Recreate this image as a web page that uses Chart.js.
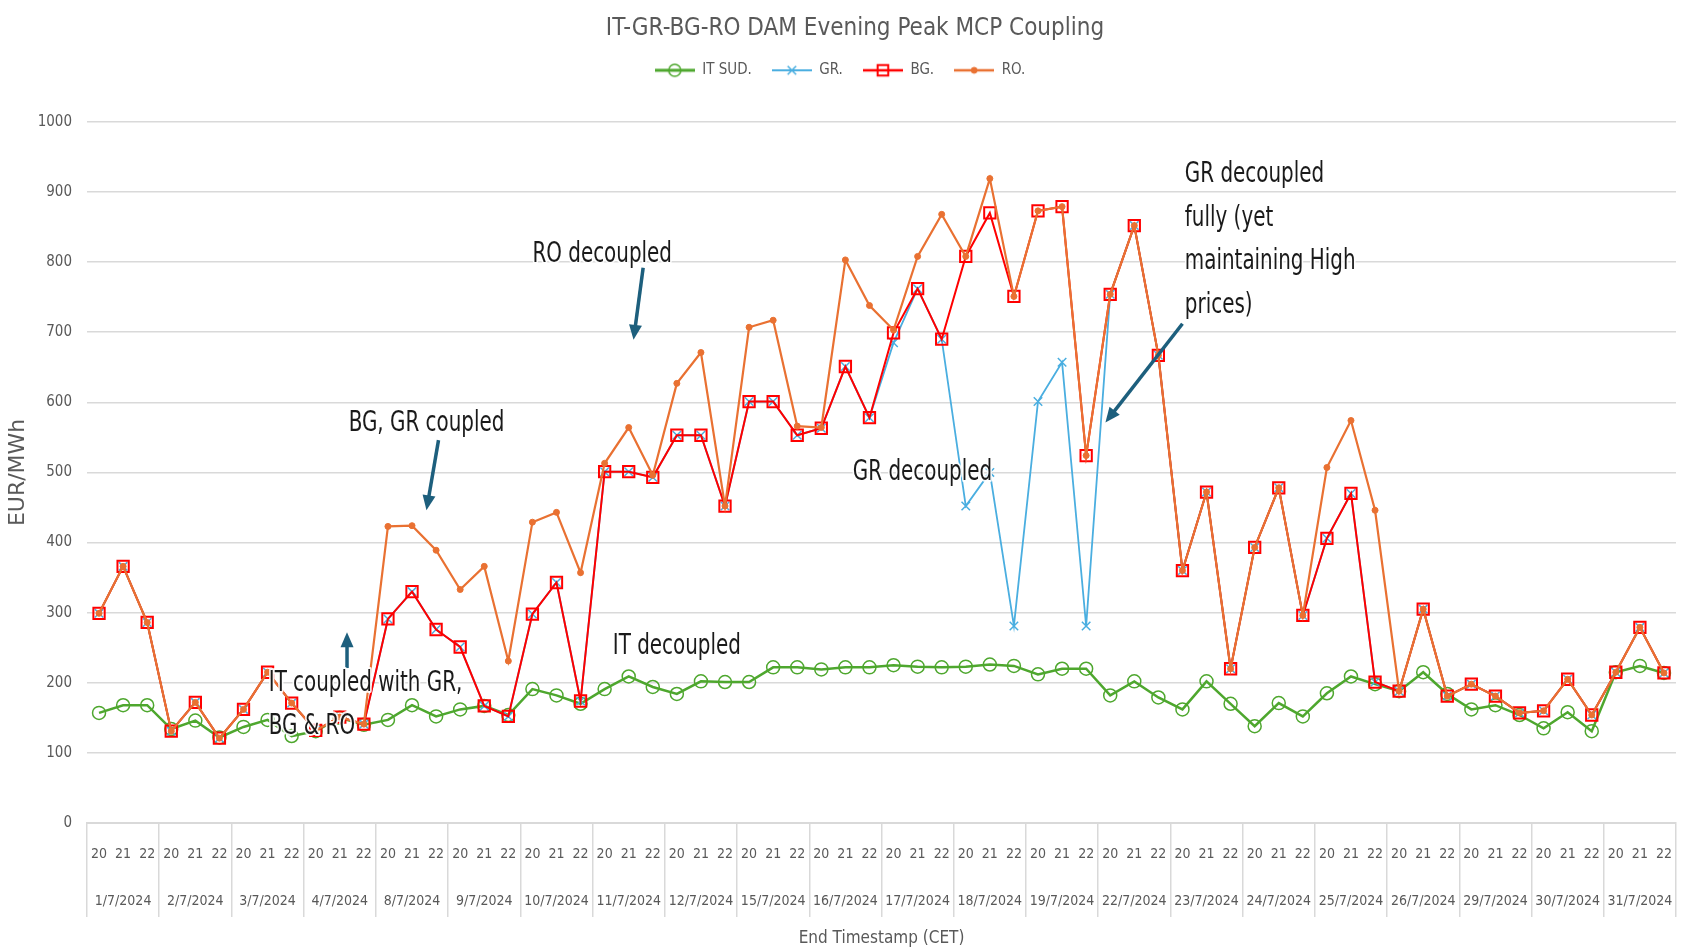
<!DOCTYPE html>
<html>
<head>
<meta charset="utf-8">
<script src="https://cdn.jsdelivr.net/npm/chart.js@4.4.1/dist/chart.umd.min.js"></script>
<style>
    html, body { margin: 0; padding: 0; background: #ffffff; }
    canvas { display: block; }
</style>
</head>
<body>
<canvas id="mcpChart" width="1686" height="952"></canvas>
<script>
// ===== DATA =====
const days = ["1/7/2024", "2/7/2024", "3/7/2024", "4/7/2024", "8/7/2024", "9/7/2024", "10/7/2024",
    "11/7/2024", "12/7/2024", "15/7/2024", "16/7/2024", "17/7/2024", "18/7/2024", "19/7/2024",
    "22/7/2024", "23/7/2024", "24/7/2024", "25/7/2024", "26/7/2024", "29/7/2024", "30/7/2024", "31/7/2024"];
const hours = ["20", "21", "22"];

// three evening hours per day, day by day
const itSud = [157, 168, 168, 134, 146, 122, 137, 147, 124, 131, 150, 140, 147, 168, 152, 162, 167, 154,
    191, 182, 170, 191, 209, 194, 184, 202, 201, 201, 222, 222, 219, 222, 222, 225, 223, 222,
    223, 226, 224, 212, 220, 220, 182, 202, 179, 162, 202, 170, 138, 171, 152, 185, 209, 198,
    188, 215, 184, 162, 168, 154, 135, 158, 131, 215, 224, 214];
const gr = [299, 366, 286, 131, 172, 121, 162, 215, 171, 132, 151, 141, 291, 330, 276, 251, 167, 152,
    298, 343, 174, 501, 501, 493, 553, 553, 452, 601, 601, 553, 563, 651, 578, 685, 762, 690,
    452, 500, 281, 601, 657, 281, 754, 852, 667, 360, 472, 220, 393, 478, 296, 406, 470, 201,
    188, 305, 181, 198, 181, 157, 160, 205, 154, 215, 279, 214];
const bg = [299, 366, 286, 131, 172, 121, 162, 215, 171, 132, 151, 141, 291, 330, 276, 251, 167, 152,
    298, 343, 174, 501, 501, 493, 553, 553, 452, 601, 601, 553, 563, 651, 578, 699, 762, 690,
    808, 870, 751, 873, 879, 524, 754, 852, 667, 360, 472, 220, 393, 478, 296, 406, 470, 201,
    188, 305, 181, 198, 181, 157, 160, 205, 154, 215, 279, 214];
const ro = [299, 366, 286, 131, 172, 121, 162, 215, 171, 132, 151, 141, 423, 424, 389, 333, 366, 231,
    429, 443, 357, 513, 564, 496, 627, 671, 452, 707, 717, 566, 564, 803, 738, 703, 808, 868,
    808, 919, 751, 873, 879, 524, 754, 852, 667, 360, 472, 220, 393, 478, 296, 507, 574, 446,
    188, 305, 181, 198, 181, 157, 160, 205, 154, 215, 279, 214];

const yTicks = [0, 1000, 100]; // min, max, step

// callouts: x = category index, y = EUR/MWh (first line)
const notes = [
    { lines: ["RO decoupled"], x: 20.9, y: 810, align: "center" },
    { lines: ["BG, GR coupled"], x: 13.6, y: 570, align: "center" },
    { lines: ["IT coupled with GR,", "BG & RO"], x: 7.05, y: 199, align: "left" },
    { lines: ["IT decoupled"], x: 24.0, y: 251, align: "center" },
    { lines: ["GR decoupled"], x: 34.2, y: 499, align: "center" },
    { lines: ["GR decoupled", "fully (yet", "maintaining High", "prices)"], x: 45.1, y: 924, align: "left" }
];
const arrows = [
    { from: [22.6, 792], to: [22.2, 689] },
    { from: [14.1, 546], to: [13.6, 446] },
    { from: [10.3, 221], to: [10.3, 272] },
    { from: [45.0, 712], to: [41.8, 571] }
];

// ===== STYLE =====
const NARROW = '"DejaVu Sans Condensed", "Liberation Sans", sans-serif';
const GREY_TEXT = "#595959";
const GRID = "#d9d9d9";
const C_IT = "#4ea72e";
const C_GR = "#4aaee0";
const C_BG = "#ff0000";
const C_RO = "#e97132";
const ARROW = "#1d5f7d";

// x labels: hour on first line, date under the middle hour
const xLabels = [];
days.forEach(d => {
    hours.forEach((h, k) => {
        xLabels.push(k === 1 ? [h, d] : h);
    });
});

// legend icons: line with the marker in the middle
function makeLegendIcon(color, style, radius, lineWidth, markerWidth, fill) {
    const c = document.createElement("canvas");
    c.width = 40;
    c.height = 20;
    const g = c.getContext("2d");
    g.strokeStyle = color;
    g.lineWidth = lineWidth;
    g.beginPath();
    g.moveTo(0, 10);
    g.lineTo(40, 10);
    g.stroke();
    g.fillStyle = fill;
    g.lineWidth = markerWidth;
    Chart.helpers.drawPoint(g, { pointStyle: style, radius: radius, rotation: 0, borderWidth: markerWidth }, 20, 10);
    return c;
}

const legendIcons = [
    makeLegendIcon(C_IT, "circle", 6, 3, 1.5, "rgba(0,0,0,0)"),
    makeLegendIcon(C_GR, "crossRot", 6, 2, 1.5, "rgba(0,0,0,0)"),
    makeLegendIcon(C_BG, "rect", 7.5, 2.5, 2, "rgba(0,0,0,0)"),
    makeLegendIcon(C_RO, "circle", 3, 2.5, 1, C_RO)
];

// ===== CALLOUT PLUGIN =====
const notesPlugin = {
    id: "notes",
    afterLayout(chart) {
        // the chart title sits a little right of the page centre
        if (chart.titleBlock) chart.titleBlock.left += 30;
    },
    afterDatasetsDraw(chart) {
        const { ctx, scales } = chart;
        const sx = scales.x, sy = scales.y;
        ctx.save();

        // arrows
        ctx.strokeStyle = ARROW;
        ctx.fillStyle = ARROW;
        ctx.lineWidth = 3.5;
        arrows.forEach(a => {
            const x1 = sx.getPixelForValue(a.from[0]), y1 = sy.getPixelForValue(a.from[1]);
            const x2 = sx.getPixelForValue(a.to[0]), y2 = sy.getPixelForValue(a.to[1]);
            const ang = Math.atan2(y2 - y1, x2 - x1);
            const head = 15, half = 6.5;
            const cos = Math.cos(ang), sin = Math.sin(ang);
            ctx.beginPath();
            ctx.moveTo(x1, y1);
            ctx.lineTo(x2 - cos * head * 0.8, y2 - sin * head * 0.8);
            ctx.stroke();
            ctx.beginPath();
            ctx.moveTo(x2, y2);
            ctx.lineTo(x2 - head * cos + half * sin, y2 - head * sin - half * cos);
            ctx.lineTo(x2 - head * cos - half * sin, y2 - head * sin + half * cos);
            ctx.closePath();
            ctx.fill();
        });

        // texts (white halo like the pasted text boxes)
        ctx.font = "28px " + NARROW;
        ctx.textBaseline = "middle";
        ctx.lineJoin = "round";
        notes.forEach(n => {
            const px = sx.getPixelForValue(n.x);
            const py = sy.getPixelForValue(n.y);
            n.lines.forEach((line, i) => {
                ctx.save();
                ctx.translate(px, py + i * 43.5);
                ctx.scale(0.79, 1);
                ctx.textAlign = n.align;
                ctx.strokeStyle = "rgba(255,255,255,0.9)";
                ctx.lineWidth = 4;
                ctx.strokeText(line, 0, 0);
                ctx.fillStyle = "#1a1a1a";
                ctx.fillText(line, 0, 0);
                ctx.restore();
            });
        });
        ctx.restore();
    }
};

// ===== CHART =====
const ctx = document.getElementById("mcpChart").getContext("2d");
const chart = new Chart(ctx, {
    type: "line",
    data: {
        labels: xLabels,
        datasets: [
            { label: "IT SUD.", data: itSud, borderColor: C_IT, borderWidth: 2.5, pointStyle: "circle",
              pointRadius: 6.5, pointBorderWidth: 1.5, pointBorderColor: C_IT, pointBackgroundColor: "rgba(0,0,0,0)", order: 3 },
            { label: "GR.", data: gr, borderColor: C_GR, borderWidth: 1.8, pointStyle: "crossRot",
              pointRadius: 6, pointBorderWidth: 1.5, pointBorderColor: C_GR, pointBackgroundColor: C_GR, order: 2 },
            { label: "BG.", data: bg, borderColor: C_BG, borderWidth: 2, pointStyle: "rect",
              pointRadius: 8, pointBorderWidth: 2, pointBorderColor: C_BG, pointBackgroundColor: "rgba(0,0,0,0)", order: 1 },
            { label: "RO.", data: ro, borderColor: C_RO, borderWidth: 2.2, pointStyle: "circle",
              pointRadius: 3, pointBorderWidth: 1, pointBorderColor: C_RO, pointBackgroundColor: C_RO, order: 0 }
        ]
    },
    options: {
        responsive: false,
        animation: false,
        devicePixelRatio: 1,
        layout: { padding: { left: 0, right: 6, top: 0, bottom: 0 } },
        plugins: {
            title: {
                display: true,
                text: "IT-GR-BG-RO DAM Evening Peak MCP Coupling",
                color: GREY_TEXT,
                font: { family: NARROW, size: 24, weight: "normal", lineHeight: 1.2 },
                padding: { top: 14, bottom: 0 }
            },
            // empty spacer under the legend
            subtitle: {
                display: true,
                text: "",
                weight: 500,
                font: { size: 10, lineHeight: 1 },
                padding: { top: 24, bottom: 0 }
            },
            legend: {
                display: true,
                labels: {
                    usePointStyle: true,
                    pointStyleWidth: 40,
                    color: GREY_TEXT,
                    padding: 20,
                    font: { family: NARROW, size: 15 },
                    generateLabels: (c) => {
                        const items = Chart.defaults.plugins.legend.labels.generateLabels(c);
                        items.forEach(it => { it.pointStyle = legendIcons[it.datasetIndex]; });
                        return items;
                    },
                    sort: (a, b) => a.datasetIndex - b.datasetIndex
                }
            },
            tooltip: { enabled: false }
        },
        scales: {
            x: {
                offset: true,
                grid: {
                    offset: true,
                    drawOnChartArea: false,
                    drawTicks: true,
                    tickLength: 94,
                    lineWidth: 1.5,
                    color: c => (c.index === undefined || c.index % 3 === 0) ? GRID : "rgba(0,0,0,0)"
                },
                border: { display: true, color: GRID, width: 2 },
                ticks: {
                    autoSkip: false,
                    maxRotation: 0,
                    padding: -86.5,
                    color: GREY_TEXT,
                    font: { family: NARROW, size: 14, lineHeight: 3.36 }
                },
                title: {
                    display: true,
                    text: "End Timestamp (CET)",
                    color: GREY_TEXT,
                    font: { family: NARROW, size: 17, lineHeight: 1.2 },
                    padding: { top: 0, bottom: 3 }
                },
                afterFit: s => { s.height = 129; }
            },
            y: {
                min: yTicks[0],
                max: yTicks[1],
                ticks: {
                    stepSize: yTicks[2],
                    color: GREY_TEXT,
                    padding: 15,
                    font: { family: NARROW, size: 15 },
                    callback: v => String(v)
                },
                grid: { color: GRID, lineWidth: 1.5, drawTicks: false },
                border: { display: false },
                title: {
                    display: true,
                    text: "EUR/MWh",
                    color: GREY_TEXT,
                    font: { family: '"DejaVu Sans", sans-serif', size: 22, lineHeight: 1.2 },
                    padding: { top: 5, bottom: 0 }
                },
                afterFit: s => { s.width = 87; }
            }
        }
    },
    plugins: [notesPlugin]
});
</script>
</body>
</html>
